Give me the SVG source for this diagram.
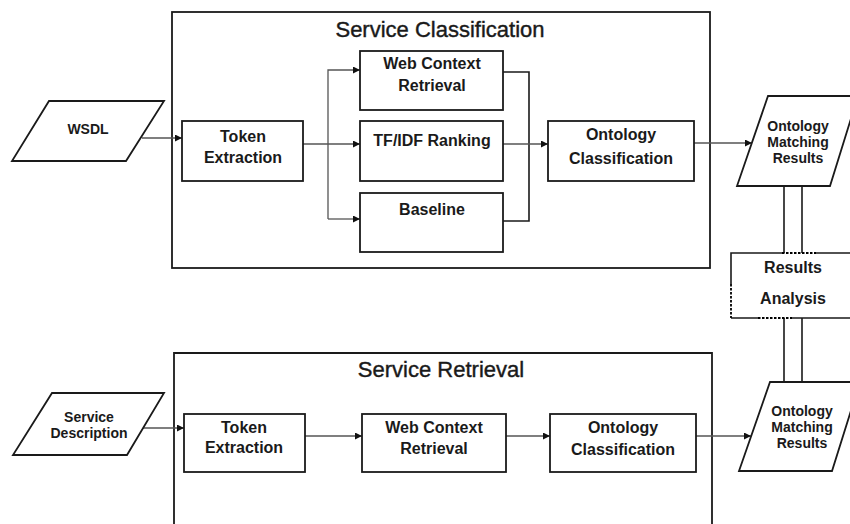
<svg xmlns="http://www.w3.org/2000/svg" width="850" height="524" viewBox="0 0 850 524">
  <defs>
    <marker id="arrow" markerUnits="userSpaceOnUse" markerWidth="7" markerHeight="7" refX="7" refY="3.5" orient="auto">
      <path d="M0,0 L7,3.5 L0,7 z" fill="#111"/>
    </marker>
    <style>
      .frame { fill: none; stroke: #1a1a1a; stroke-width: 1.8; }
      .box { fill: #fff; stroke: #1a1a1a; stroke-width: 1.8; }
      .edge { fill: none; stroke: #555; stroke-width: 1.3; }
      .pair { fill: none; stroke: #1a1a1a; stroke-width: 1.6; }
      .dot { fill: none; stroke: #000; stroke-width: 1.8; stroke-dasharray: 2.5 1.5; }
      .title { font-family: "Liberation Sans", Arial, sans-serif; font-size: 22px; fill: #1a1a1a; stroke: #1a1a1a; stroke-width: 0.4; text-anchor: middle; }
      .lbl { font-family: "Liberation Sans", Arial, sans-serif; font-size: 16px; font-weight: bold; fill: #1a1a1a; text-anchor: middle; }
      .sm { font-family: "Liberation Sans", Arial, sans-serif; font-size: 14px; font-weight: bold; fill: #1a1a1a; text-anchor: middle; }
    </style>
  </defs>
  <rect width="850" height="524" fill="#fff"/>

  <!-- stage frames -->
  <g id="service-classification">
    <rect class="frame" x="172" y="12" width="538" height="256"/>
    <text class="title" x="440" y="37">Service Classification</text>
  </g>
  <g id="service-retrieval">
    <path class="frame" d="M174,540 V353 H712 V540"/>
    <text class="title" x="441" y="377">Service Retrieval</text>
  </g>

  <!-- connectors -->
  <g id="connectors">
    <path class="edge" d="M142,138 H182" marker-end="url(#arrow)"/>
    <path class="edge" d="M303,144 H360" marker-end="url(#arrow)"/>
    <path class="edge" d="M328,219 V70 H360" marker-end="url(#arrow)"/>
    <path class="edge" d="M328,219 H360" marker-end="url(#arrow)"/>
    <path class="pair" d="M503,72 H529 V221 H503"/>
    <path class="edge" d="M503,144 H548" marker-end="url(#arrow)"/>
    <path class="edge" d="M694,143 H752" marker-end="url(#arrow)"/>
    <path class="pair" d="M784,186 V253 M802,186 V253 M784,318 V382 M802,318 V382"/>

    <path class="edge" d="M143,428 H184" marker-end="url(#arrow)"/>
    <path class="edge" d="M305,436 H362" marker-end="url(#arrow)"/>
    <path class="edge" d="M506,436 H550" marker-end="url(#arrow)"/>
    <path class="edge" d="M696,436 H751" marker-end="url(#arrow)"/>
  </g>

  <!-- inputs -->
  <g id="wsdl">
    <polygon class="box" points="49,101 164,101 126,161 12,161"/>
    <text class="sm" x="88" y="134">WSDL</text>
  </g>
  <g id="service-description">
    <polygon class="box" points="52,393 164,393 127,455 13,455"/>
    <text class="sm" x="89" y="422">Service</text>
    <text class="sm" x="89" y="438">Description</text>
  </g>

  <!-- classification stage -->
  <g id="token-extraction-1">
    <rect class="box" x="182" y="121" width="121" height="60"/>
    <text class="lbl" x="243" y="142">Token</text>
    <text class="lbl" x="243" y="163">Extraction</text>
  </g>
  <g id="web-context-1">
    <rect class="box" x="360" y="51" width="143" height="59"/>
    <text class="lbl" x="432" y="69">Web Context</text>
    <text class="lbl" x="432" y="91">Retrieval</text>
  </g>
  <g id="tfidf-ranking">
    <rect class="box" x="360" y="121" width="143" height="60"/>
    <text class="lbl" x="432" y="146">TF/IDF Ranking</text>
  </g>
  <g id="baseline">
    <rect class="box" x="360" y="193" width="143" height="59"/>
    <text class="lbl" x="432" y="215">Baseline</text>
  </g>
  <g id="ontology-classification-1">
    <rect class="box" x="548" y="121" width="146" height="60"/>
    <text class="lbl" x="621" y="140">Ontology</text>
    <text class="lbl" x="621" y="164">Classification</text>
  </g>

  <!-- retrieval stage -->
  <g id="token-extraction-2">
    <rect class="box" x="184" y="414" width="121" height="58"/>
    <text class="lbl" x="244" y="433">Token</text>
    <text class="lbl" x="244" y="453">Extraction</text>
  </g>
  <g id="web-context-2">
    <rect class="box" x="362" y="414" width="144" height="58"/>
    <text class="lbl" x="434" y="433">Web Context</text>
    <text class="lbl" x="434" y="454">Retrieval</text>
  </g>
  <g id="ontology-classification-2">
    <rect class="box" x="550" y="414" width="146" height="58"/>
    <text class="lbl" x="623" y="433">Ontology</text>
    <text class="lbl" x="623" y="455">Classification</text>
  </g>

  <!-- outputs -->
  <g id="matching-results-1">
    <polygon class="box" points="768,96 858,96 830,186 737,186"/>
    <text class="sm" x="798" y="131">Ontology</text>
    <text class="sm" x="798" y="147">Matching</text>
    <text class="sm" x="798" y="163">Results</text>
  </g>
  <g id="matching-results-2">
    <polygon class="box" points="770,382 860,382 832,471 739,471"/>
    <text class="sm" x="802" y="416">Ontology</text>
    <text class="sm" x="802" y="432">Matching</text>
    <text class="sm" x="802" y="448">Results</text>
  </g>

  <g id="results-analysis">
    <rect x="731" y="253" width="125" height="65" fill="#fff"/>
    <path class="pair" d="M731,284 V253 H782 M816,253 H856 M731,318 H758 M792,318 H856"/>
    <path class="dot" d="M782,253 H816 M731,284 V318 M758,318 H792"/>
    <text class="lbl" x="793" y="273">Results</text>
    <text class="lbl" x="793" y="304">Analysis</text>
  </g>
</svg>
